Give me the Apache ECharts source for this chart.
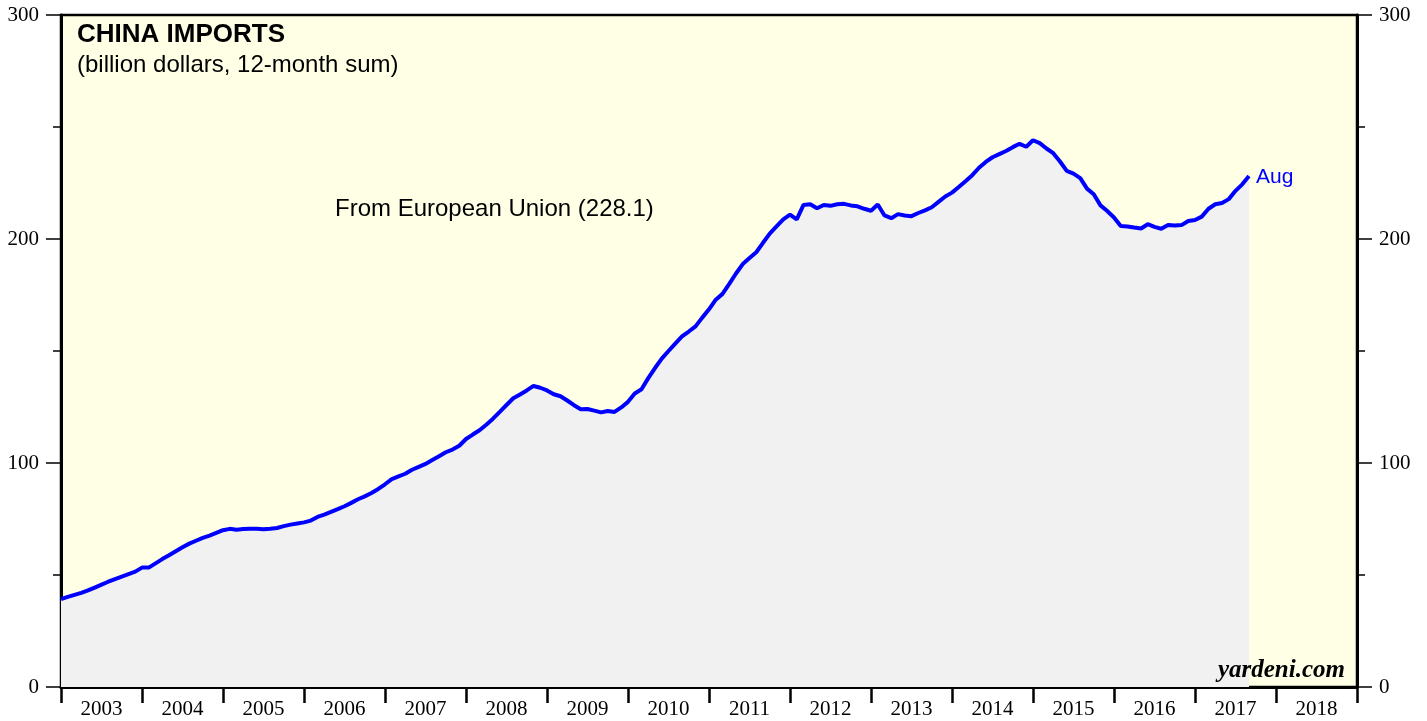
<!DOCTYPE html>
<html>
<head>
<meta charset="utf-8">
<script src="https://cdn.jsdelivr.net/npm/echarts@6/dist/echarts.min.js"></script>
<style>
html,body{margin:0;padding:0;background:#fff;}
#chart{width:1427px;height:721px;}
</style>
</head>
<body>
<div id="chart"></div>
<script>
// Year labels shown under the axis (centered in each year)
const yearLabels = ['2003','2004','2005','2006','2007','2008','2009','2010','2011','2012','2013','2014','2015','2016','2017','2018'];
// Y tick values
const yTicks = [0, 100, 200, 300];
// China imports from EU, billion dollars 12-month sum, Dec 2002 .. Aug 2017 (monthly)
const startYear = 2003; // Dec 2002 month-end plotted at start of 2003
const euImports = [
39.2,40.2,41.1,42.0,43.1,44.4,45.7,47.0,48.2,49.3,50.4,51.5,
53.3,53.3,55.2,57.1,58.8,60.6,62.4,64.0,65.3,66.6,67.6,68.8,
70.0,70.6,70.2,70.5,70.7,70.6,70.4,70.6,71.0,71.8,72.5,73.0,
73.5,74.3,75.9,77.0,78.2,79.4,80.7,82.2,83.8,85.1,86.6,88.4,
90.5,92.8,94.0,95.2,97.0,98.3,99.6,101.3,103.0,104.8,106.0,107.7,
110.7,112.7,114.6,117.1,119.8,122.8,125.9,128.9,130.6,132.4,134.4,133.6,
132.4,130.7,129.8,127.9,125.8,124.0,124.1,123.4,122.6,123.2,122.8,124.8,
127.3,131.0,132.9,137.9,142.4,146.6,150.0,153.3,156.5,158.7,161.0,164.9,
168.6,172.9,175.5,180.0,184.6,188.8,191.5,194.1,198.3,202.4,205.6,208.8,
210.9,208.8,215.2,215.5,213.7,215.2,214.8,215.5,215.7,215.0,214.6,213.5,
212.6,215.4,210.5,209.3,211.1,210.5,210.2,211.6,212.8,214.2,216.6,219.0,
220.7,223.2,225.8,228.5,231.8,234.4,236.5,237.9,239.3,241.0,242.5,241.2,
244.1,242.8,240.4,238.3,234.6,230.4,229.2,227.2,222.5,220.0,215.0,212.5,
209.6,205.8,205.6,205.1,204.7,206.6,205.4,204.6,206.3,206.0,206.2,208.0,
208.5,210.0,213.5,215.5,216.1,217.8,221.5,224.4,228.1
];
const seriesData = euImports.map((v, i) => [startYear + i / 12, v]);

const serif = 'Liberation Serif';
const sans = 'Liberation Sans';

const chart = echarts.init(document.getElementById('chart'), null, {renderer: 'canvas'});

const yAxisCommon = {
  type: 'value',
  min: yTicks[0],
  max: yTicks[yTicks.length - 1],
  interval: 100,
  axisLine: {show: true, lineStyle: {color: '#000', width: 3}},
  axisTick: {show: true, length: 15, lineStyle: {color: '#000', width: 1.5}},
  minorTick: {show: true, splitNumber: 2, length: 8, lineStyle: {color: '#000', width: 1.5}},
  splitLine: {show: false},
  axisLabel: {color: '#000', fontFamily: serif, fontSize: 21, margin: 22}
};

chart.setOption({
  animation: false,
  grid: {
    left: 61, right: 70, top: 15, bottom: 34,
    show: true, backgroundColor: '#FFFFE6', borderColor: '#000', borderWidth: 2.5
  },
  xAxis: [
    {
      type: 'value', min: 2003, max: 2019, interval: 1,
      axisLine: {show: true, onZero: false, lineStyle: {color: '#000', width: 3}},
      axisTick: {show: true, length: 16, lineStyle: {color: '#000', width: 2.5}},
      axisLabel: {show: false},
      splitLine: {show: false}
    },
    {
      type: 'category', data: yearLabels, boundaryGap: true, position: 'bottom',
      axisLine: {show: false}, axisTick: {show: false}, splitLine: {show: false},
      axisLabel: {color: '#000', fontFamily: serif, fontSize: 21, margin: 12, interval: 0}
    }
  ],
  yAxis: [
    Object.assign({}, yAxisCommon, {position: 'left'}),
    Object.assign({}, yAxisCommon, {position: 'right'})
  ],
  series: [{
    type: 'line',
    data: seriesData,
    xAxisIndex: 0,
    yAxisIndex: 0,
    showSymbol: false,
    symbol: 'none',
    lineStyle: {color: '#0000FF', width: 4},
    areaStyle: {color: '#F1F1F1', opacity: 1, origin: 'start'},
    endLabel: {
      show: true, formatter: 'Aug', color: '#0000FF',
      fontFamily: sans, fontSize: 21, distance: 7, offset: [0, 1]
    },
    z: 3
  }],
  graphic: [
    {type: 'text', left: 77, top: 22, z: 10,
     style: {text: 'CHINA IMPORTS', fontFamily: sans, fontWeight: 'bold', fontSize: 26, fill: '#000'}},
    {type: 'text', left: 77, top: 53, z: 10,
     style: {text: '(billion dollars, 12-month sum)', fontFamily: sans, fontSize: 24, fill: '#000'}},
    {type: 'text', left: 335, top: 197, z: 10,
     style: {text: 'From European Union (228.1)', fontFamily: sans, fontSize: 24, fill: '#000'}},
    {type: 'text', right: 82, top: 658, z: 10,
     style: {text: 'yardeni.com', fontFamily: serif, fontWeight: 'bold', fontStyle: 'italic', fontSize: 25, fill: '#000'}}
  ]
});
</script>
</body>
</html>
